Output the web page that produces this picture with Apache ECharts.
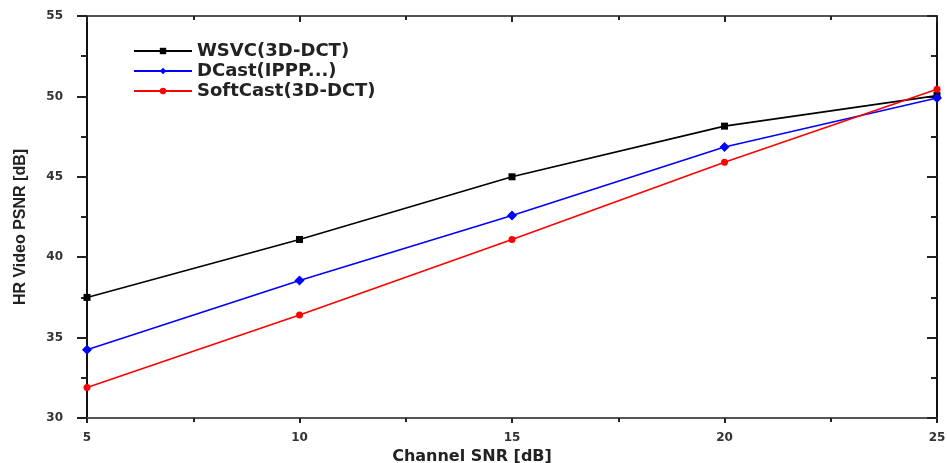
<!DOCTYPE html>
<html><head><meta charset="utf-8">
<script src="https://cdn.jsdelivr.net/npm/echarts@6/dist/echarts.min.js"></script>
<style>html,body{margin:0;padding:0;background:#fff}#c{width:947px;height:463px}</style>
</head><body><div id="c"></div>
<script>
const snr = [5, 10, 15, 20, 25];
const wsvc = [37.5, 41.1, 45.0, 48.15, 50.05];
const dcast = [34.25, 38.55, 42.6, 46.85, 49.9];
const softcast = [31.9, 36.4, 41.1, 45.9, 50.45];
const seriesNames = ['WSVC(3D-DCT)', 'DCast(IPPP...)', 'SoftCast(3D-DCT)'];

const chart = echarts.init(document.getElementById('c'));
const pair = (ys) => snr.map((x, i) => [x, ys[i]]);
const lbl = {fontFamily: 'DejaVu Sans, sans-serif', fontWeight: 'bold', fontSize: 12, color: '#333'};
const blackLine = {show: true, lineStyle: {color: '#111', width: 2}};
const grayLine = {show: true, lineStyle: {color: '#555', width: 2}};
const tick = (inside, len) => ({show: true, inside: inside, length: len, lineStyle: {color: '#222', width: 2}});
const minor = (len) => ({show: true, splitNumber: 2, length: len, lineStyle: {color: '#222', width: 2}});
chart.setOption({
  animation: false,
  grid: {left: 87, right: 10, top: 16, bottom: 45, outerBoundsMode: 'none', containLabel: false},
  legend: {
    orient: 'vertical', left: 128, top: 37, itemWidth: 58, itemHeight: 8, itemGap: 2,
    textStyle: {fontFamily: 'DejaVu Sans, sans-serif', fontWeight: 'bold', fontSize: 18, color: '#222'},
    data: seriesNames
  },
  xAxis: [{
    type: 'value', min: 5, max: 25, interval: 5, position: 'bottom',
    name: 'Channel SNR [dB]', nameLocation: 'middle', nameGap: 27,
    nameTextStyle: {fontFamily: 'DejaVu Sans, sans-serif', fontWeight: 'bold', fontSize: 16, color: '#222', padding: [0, 80, 0, 0]},
    axisLine: grayLine, axisTick: tick(false, 5), minorTick: minor(4),
    axisLabel: Object.assign({margin: 14}, lbl), splitLine: {show: false}
  }, {
    type: 'value', min: 5, max: 25, interval: 5, position: 'top',
    axisLine: grayLine, axisTick: tick(true, 6), minorTick: minor(4),
    axisLabel: {show: false}, splitLine: {show: false}
  }],
  yAxis: [{
    type: 'value', min: 30, max: 55, interval: 5, position: 'left',
    name: 'HR Video PSNR [dB]', nameLocation: 'middle', nameGap: 58, nameRotate: 90,
    nameTextStyle: {fontFamily: 'Liberation Sans, Arial, sans-serif', fontWeight: 'bold', fontSize: 16, color: '#222', padding: [0, 20, 0, 0]},
    axisLine: blackLine, axisTick: tick(false, 10), minorTick: minor(6),
    axisLabel: Object.assign({margin: 24}, lbl), splitLine: {show: false}
  }, {
    type: 'value', min: 30, max: 55, interval: 5, position: 'right',
    axisLine: blackLine, axisTick: tick(true, 10), minorTick: minor(6),
    axisLabel: {show: false}, splitLine: {show: false}
  }],
  series: [
    {name: seriesNames[0], type: 'line', data: pair(wsvc), symbol: 'rect', symbolSize: 7,
     itemStyle: {color: '#000'}, lineStyle: {color: '#000', width: 1.6}},
    {name: seriesNames[1], type: 'line', data: pair(dcast), symbol: 'diamond', symbolSize: 10,
     itemStyle: {color: '#0000ff'}, lineStyle: {color: '#0000ff', width: 1.6}},
    {name: seriesNames[2], type: 'line', data: pair(softcast), symbol: 'circle', symbolSize: 7,
     itemStyle: {color: '#ff0000'}, lineStyle: {color: '#ff0000', width: 1.6}}
  ]
});
</script></body></html>
